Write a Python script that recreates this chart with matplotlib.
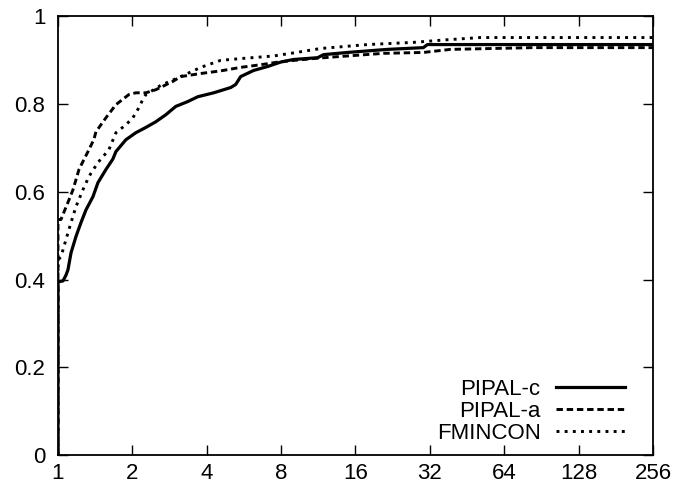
import matplotlib.pyplot as plt
from matplotlib.ticker import NullLocator

FONT_SIZE = 16

plt.rcParams['font.family'] = ['Liberation Sans', 'DejaVu Sans']

# performance profiles: tau (ratio to best) vs fraction of problems solved
pipal_c_tau = [1.000, 1.000, 1.048, 1.077, 1.097, 1.129, 1.182, 1.239, 1.298, 1.385,
               1.451, 1.563, 1.668, 1.716, 1.883, 2.066, 2.268, 2.489, 2.732, 2.998,
               3.352, 3.679, 4.269, 5.001, 5.239, 5.489, 6.194, 7.056, 7.963, 8.986,
               11.24, 11.88, 14.85, 21.55, 30.12, 31.26, 256]
pipal_c_rho = [0.000, 0.395, 0.397, 0.410, 0.422, 0.461, 0.498, 0.530, 0.559, 0.589,
               0.621, 0.651, 0.675, 0.692, 0.719, 0.735, 0.747, 0.760, 0.776, 0.795,
               0.806, 0.817, 0.826, 0.838, 0.845, 0.863, 0.877, 0.886, 0.896, 0.902,
               0.906, 0.913, 0.918, 0.925, 0.929, 0.936, 0.936]

pipal_a_tau = [1.000, 1.000, 1.028, 1.108, 1.150, 1.216, 1.274, 1.334, 1.398, 1.424,
               1.563, 1.716, 1.936, 2.066, 2.268, 2.489, 2.916, 3.141, 3.783, 4.556,
               5.489, 6.612, 7.963, 11.24, 14.85, 20.76, 30.12, 38.73, 83.83, 256]
pipal_a_rho = [0.000, 0.537, 0.537, 0.582, 0.605, 0.651, 0.674, 0.696, 0.720, 0.737,
               0.769, 0.799, 0.822, 0.826, 0.826, 0.833, 0.852, 0.863, 0.870, 0.876,
               0.884, 0.890, 0.897, 0.905, 0.910, 0.916, 0.918, 0.925, 0.929, 0.929]

fmincon_tau = [1.000, 1.000, 1.028, 1.077, 1.129, 1.182, 1.262, 1.334, 1.451, 1.607,
               1.716, 1.883, 2.009, 2.125, 2.205, 2.268, 2.607, 3.141, 3.783, 4.556,
               5.489, 7.462, 8.986, 11.55, 17.89, 27.45, 37.66, 51.19, 256]
fmincon_rho = [0.000, 0.445, 0.452, 0.491, 0.530, 0.566, 0.605, 0.635, 0.667, 0.696,
               0.735, 0.753, 0.769, 0.792, 0.811, 0.822, 0.843, 0.863, 0.884, 0.900,
               0.904, 0.910, 0.917, 0.927, 0.936, 0.941, 0.947, 0.952, 0.952]

x_ticks = [1, 2, 4, 8, 16, 32, 64, 128, 256]
y_ticks = [0, 0.2, 0.4, 0.6, 0.8, 1]
y_labels = ['0', '0.2', '0.4', '0.6', '0.8', '1']

fig = plt.figure(figsize=(6.79, 4.91), dpi=100)
ax = fig.add_axes([0.0854, 0.0733, 0.8763, 0.8931])

ax.plot(pipal_c_tau, pipal_c_rho, color='black', lw=2.3, ls='-', label='PIPAL-c')
ax.plot(pipal_a_tau, pipal_a_rho, color='black', lw=2.1, ls=(0, (2.2, 1.3)), label='PIPAL-a')
ax.plot(fmincon_tau, fmincon_rho, color='black', lw=2.1, ls=(0, (1.0, 1.8)), label='FMINCON')

ax.set_xscale('log', base=2)
ax.set_xlim(1, 256)
ax.set_ylim(0, 1)
ax.set_xticks(x_ticks)
ax.set_xticklabels([str(t) for t in x_ticks])
ax.xaxis.set_minor_locator(NullLocator())
ax.set_yticks(y_ticks)
ax.set_yticklabels(y_labels)

ax.tick_params(direction='in', length=7, width=1, top=True, right=True,
               labelsize=FONT_SIZE, colors='black')
ax.tick_params(axis='x', pad=6)
ax.tick_params(axis='y', pad=9)
for spine in ax.spines.values():
    spine.set_linewidth(1.3)

ax.legend(loc='lower right', bbox_to_anchor=(0.953, 0.025), frameon=False,
          markerfirst=False, fontsize=FONT_SIZE, borderpad=0, borderaxespad=0,
          labelspacing=0.05, handlelength=3.1, handletextpad=0.7)

fig.savefig('out.png', dpi=100)
